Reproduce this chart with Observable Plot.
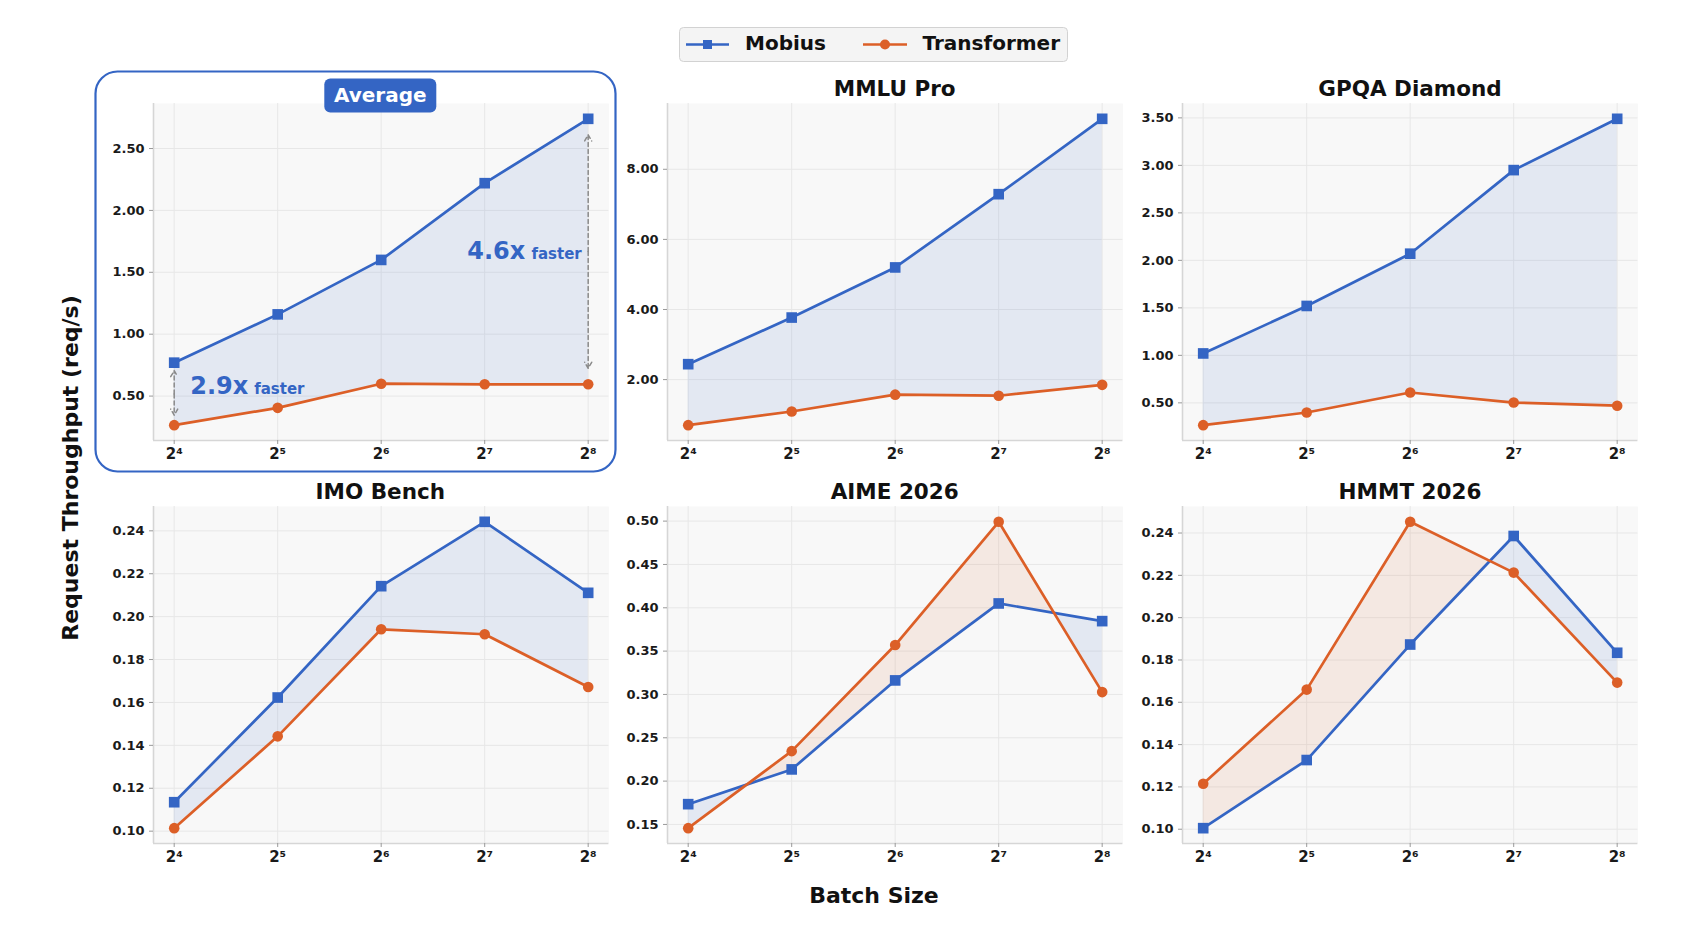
<!DOCTYPE html>
<html>
<head>
<meta charset="utf-8">
<script src="https://cdn.jsdelivr.net/npm/d3@7"></script>
<script src="https://cdn.jsdelivr.net/npm/@observablehq/plot@0.6"></script>
<style>
  body { margin: 0; background: #fff; }
  #root { position: relative; width: 1703px; height: 931px; overflow: hidden; background: #fff; font-family: "DejaVu Sans", sans-serif; }
  .panel { position: absolute; }
  #overlay { position: absolute; left: 0; top: 0; pointer-events: none; }
</style>
</head>
<body>
<div id="root"></div>
<script>
// ---------------- data ----------------
const batchSizes = [16, 32, 64, 128, 256];
const seriesNames = ["Mobius", "Transformer"];
const panelTitles = ["Average", "MMLU Pro", "GPQA Diamond", "IMO Bench", "AIME 2026", "HMMT 2026"];

const mobiusAverage      = [0.77, 1.16, 1.60, 2.22, 2.74];
const transformerAverage = [0.265, 0.405, 0.600, 0.595, 0.595];

const mobiusMMLU      = [2.44, 3.77, 5.20, 7.29, 9.44];
const transformerMMLU = [0.70, 1.09, 1.57, 1.54, 1.85];

const mobiusGPQA      = [1.02, 1.52, 2.07, 2.95, 3.49];
const transformerGPQA = [0.265, 0.398, 0.609, 0.503, 0.470];

const mobiusIMO      = [0.1135, 0.1623, 0.2142, 0.2442, 0.2111];
const transformerIMO = [0.1014, 0.1442, 0.1941, 0.1918, 0.1672];

const mobiusAIME      = [0.1734, 0.2135, 0.3162, 0.4050, 0.3846];
const transformerAIME = [0.1457, 0.2346, 0.3570, 0.4992, 0.3027];

const mobiusHMMT      = [0.1005, 0.1327, 0.1873, 0.2386, 0.1834];
const transformerHMMT = [0.1215, 0.1660, 0.2453, 0.2213, 0.1693];

const ticksAverage = [0.5, 1.0, 1.5, 2.0, 2.5];
const ticksMMLU    = [2, 4, 6, 8];
const ticksGPQA    = [0.5, 1.0, 1.5, 2.0, 2.5, 3.0, 3.5];
const ticksIMO     = [0.10, 0.12, 0.14, 0.16, 0.18, 0.20, 0.22, 0.24];
const ticksAIME    = [0.15, 0.20, 0.25, 0.30, 0.35, 0.40, 0.45, 0.50];
const ticksHMMT    = [0.10, 0.12, 0.14, 0.16, 0.18, 0.20, 0.22, 0.24];

const xLabel = "Batch Size";
const yLabel = "Request Throughput (req/s)";
const fasterWord = "faster";

// ---------------- style ----------------
const BLUE = "#3465c4";
const ORANGE = "#dc5f27";
const FONT = "DejaVu Sans";
const frameLefts = [152.6, 667, 1182.3];
const frameTops = [103, 506];
const frameW = 455.4, frameH = 337;
const mL = 70, mR = 14, mT = 10, mB = 36;

const panels = [
  {title: panelTitles[0], mob: mobiusAverage, tra: transformerAverage, ticks: ticksAverage, col: 0, row: 0, annotate: true},
  {title: panelTitles[1], mob: mobiusMMLU, tra: transformerMMLU, ticks: ticksMMLU, col: 1, row: 0},
  {title: panelTitles[2], mob: mobiusGPQA, tra: transformerGPQA, ticks: ticksGPQA, col: 2, row: 0},
  {title: panelTitles[3], mob: mobiusIMO, tra: transformerIMO, ticks: ticksIMO, col: 0, row: 1},
  {title: panelTitles[4], mob: mobiusAIME, tra: transformerAIME, ticks: ticksAIME, col: 1, row: 1},
  {title: panelTitles[5], mob: mobiusHMMT, tra: transformerHMMT, ticks: ticksHMMT, col: 2, row: 1}
];

const sup = {"4": "\u2074", "5": "\u2075", "6": "\u2076", "7": "\u2077", "8": "\u2078"};
const fmtPow = d => "2" + String(Math.round(Math.log2(d))).split("").map(c => sup[c] || c).join("");
const fmtY = d3.format(".2f");

const root = document.getElementById("root");

function buildPanel(p) {
  const n = batchSizes.length;
  const rows = batchSizes.map((b, i) => ({batch: b, mobius: p.mob[i], transformer: p.tra[i]}));
  const all = p.mob.concat(p.tra);
  const lo = d3.min(all), hi = d3.max(all), pad = (hi - lo) * 0.05;
  const yDomain = [lo - pad, hi + pad];
  const e0 = Math.log2(batchSizes[0]), e1 = Math.log2(batchSizes[n - 1]), xpad = (e1 - e0) * 0.05;
  const xDomain = [2 ** (e0 - xpad), 2 ** (e1 + xpad)];

  // fill rows including crossing points of the two lines (for two-colour fill between)
  const fillRows = [];
  for (let i = 0; i < n; i++) {
    fillRows.push(rows[i]);
    if (i < n - 1) {
      const d0 = p.mob[i] - p.tra[i], d1 = p.mob[i + 1] - p.tra[i + 1];
      if (d0 * d1 < 0) {
        const t = d0 / (d0 - d1);
        const la = Math.log2(batchSizes[i]), lb = Math.log2(batchSizes[i + 1]);
        const yc = p.mob[i] + t * (p.mob[i + 1] - p.mob[i]);
        fillRows.push({batch: 2 ** (la + t * (lb - la)), mobius: yc, transformer: yc});
      }
    }
  }
  const top = d => Math.max(d.mobius, d.transformer);

  const marks = [
    Plot.frame({fill: "#f8f8f8", stroke: null}),
    Plot.gridX({ticks: batchSizes, stroke: "#e7e7e7", strokeOpacity: 1, strokeWidth: 1}),
    Plot.gridY({ticks: p.ticks, stroke: "#e7e7e7", strokeOpacity: 1, strokeWidth: 1}),
    Plot.ruleX([xDomain[0]], {stroke: "#d6d6d6", strokeWidth: 1.6}),
    Plot.ruleY([yDomain[0]], {stroke: "#d6d6d6", strokeWidth: 1.6}),
    Plot.areaY(fillRows, {x: "batch", y1: "transformer", y2: top, fill: BLUE, fillOpacity: 0.1}),
    Plot.areaY(fillRows, {x: "batch", y1: "mobius", y2: top, fill: ORANGE, fillOpacity: 0.1}),
    Plot.line(rows, {x: "batch", y: "mobius", stroke: BLUE, strokeWidth: 2.7}),
    Plot.line(rows, {x: "batch", y: "transformer", stroke: ORANGE, strokeWidth: 2.7}),
    Plot.dot(rows, {x: "batch", y: "mobius", symbol: "square", r: 6, fill: BLUE}),
    Plot.dot(rows, {x: "batch", y: "transformer", symbol: "circle", r: 5.3, fill: ORANGE}),
    Plot.axisX({ticks: batchSizes, tickFormat: fmtPow, label: null, tickSize: 4, tickPadding: 4, fontSize: 15, stroke: "#999", fill: "#1a1a1a"}),
    Plot.axisY({ticks: p.ticks, tickFormat: fmtY, label: null, tickSize: 4, tickPadding: 5, fontSize: 13, stroke: "#999", fill: "#1a1a1a"})
  ];

  if (p.annotate) {
    const first = rows[0], last = rows[n - 1];
    const mid = d => (d.mobius + d.transformer) / 2;
    const ratio = d => (d.mobius / d.transformer).toFixed(1) + "x";
    const arrowOpts = {x1: "batch", x2: "batch", y1: mid, stroke: "#8a8a8a", strokeWidth: 1.5, strokeDasharray: "4,3", headLength: 7};
    marks.push(
      Plot.arrow([first], {...arrowOpts, y2: "mobius", insetEnd: 8}),
      Plot.arrow([first], {...arrowOpts, y2: "transformer", insetEnd: 10}),
      Plot.arrow([last], {...arrowOpts, y2: "mobius", insetEnd: 16}),
      Plot.arrow([last], {...arrowOpts, y2: "transformer", insetEnd: 16}),
      Plot.text([first], {x: "batch", y: mid, text: ratio, dx: 16, textAnchor: "start", lineAnchor: "bottom", fontSize: 24, fontWeight: "bold", fill: BLUE}),
      Plot.text([first], {x: "batch", y: mid, text: () => fasterWord, dx: 80, textAnchor: "start", lineAnchor: "bottom", fontSize: 15, fontWeight: "bold", fill: BLUE}),
      Plot.text([last], {x: "batch", y: mid, text: ratio, dx: -63, dy: 7, textAnchor: "end", lineAnchor: "bottom", fontSize: 24, fontWeight: "bold", fill: BLUE}),
      Plot.text([last], {x: "batch", y: mid, text: () => fasterWord, dx: -6.5, dy: 7, textAnchor: "end", lineAnchor: "bottom", fontSize: 15, fontWeight: "bold", fill: BLUE})
    );
  }

  const svg = Plot.plot({
    width: mL + frameW + mR,
    height: mT + frameH + mB,
    marginLeft: mL, marginRight: mR, marginTop: mT, marginBottom: mB,
    x: {type: "log", base: 2, domain: xDomain, label: null},
    y: {domain: yDomain, label: null},
    style: {fontFamily: FONT, fontWeight: "bold", background: "transparent", overflow: "visible"},
    marks
  });
  const wrap = document.createElement("div");
  wrap.className = "panel";
  wrap.style.left = (frameLefts[p.col] - mL) + "px";
  wrap.style.top = (frameTops[p.row] - mT) + "px";
  wrap.appendChild(svg);
  return wrap;
}

// Average highlight box (behind)
const ns = "http://www.w3.org/2000/svg";
function el(tag, attrs, parent, text) {
  const e = document.createElementNS(ns, tag);
  for (const k in attrs) e.setAttribute(k, attrs[k]);
  if (text !== undefined) e.textContent = text;
  parent.appendChild(e);
  return e;
}
const back = document.createElementNS(ns, "svg");
back.setAttribute("width", 1703); back.setAttribute("height", 931);
back.style.position = "absolute"; back.style.left = "0"; back.style.top = "0";
el("rect", {x: 95.5, y: 71.5, width: 520, height: 400, rx: 22, ry: 22, fill: "none", stroke: BLUE, "stroke-width": 2.2}, back);
root.appendChild(back);

for (const p of panels) root.appendChild(buildPanel(p));

// overlay: titles, legend, axis labels
const ov = document.createElementNS(ns, "svg");
ov.setAttribute("id", "overlay");
ov.setAttribute("width", 1703); ov.setAttribute("height", 931);
ov.style.fontFamily = FONT; ov.style.fontWeight = "bold";
root.appendChild(ov);

const titleBaselines = [96, 499];
for (const p of panels) {
  const cx = frameLefts[p.col] + frameW / 2;
  if (p.annotate) {
    el("rect", {x: cx - 56, y: 78.5, width: 112, height: 34, rx: 6, ry: 6, fill: BLUE}, ov);
    el("text", {x: cx, y: 101.5, "text-anchor": "middle", "font-size": 20, fill: "#fff"}, ov, p.title);
  } else {
    el("text", {x: cx, y: titleBaselines[p.row], "text-anchor": "middle", "font-size": 21.5, fill: "#111"}, ov, p.title);
  }
}

// legend
el("rect", {x: 679.5, y: 27.5, width: 388, height: 34, rx: 4, ry: 4, fill: "#f4f4f4", stroke: "#d2d2d2", "stroke-width": 1}, ov);
el("line", {x1: 686, x2: 729, y1: 44.5, y2: 44.5, stroke: BLUE, "stroke-width": 2.6}, ov);
el("rect", {x: 703, y: 40, width: 9, height: 9, fill: BLUE}, ov);
el("text", {x: 745, y: 50, "font-size": 20, fill: "#111"}, ov, seriesNames[0]);
el("line", {x1: 863, x2: 907, y1: 44.5, y2: 44.5, stroke: ORANGE, "stroke-width": 2.6}, ov);
el("circle", {cx: 885, cy: 44.5, r: 5, fill: ORANGE}, ov);
el("text", {x: 922.5, y: 50, "font-size": 20, fill: "#111"}, ov, seriesNames[1]);

// axis labels
el("text", {x: 874, y: 902.5, "text-anchor": "middle", "font-size": 22, fill: "#111"}, ov, xLabel);
el("text", {transform: "translate(78,468) rotate(-90)", "text-anchor": "middle", "font-size": 22, fill: "#111"}, ov, yLabel);
</script>
</body>
</html>
